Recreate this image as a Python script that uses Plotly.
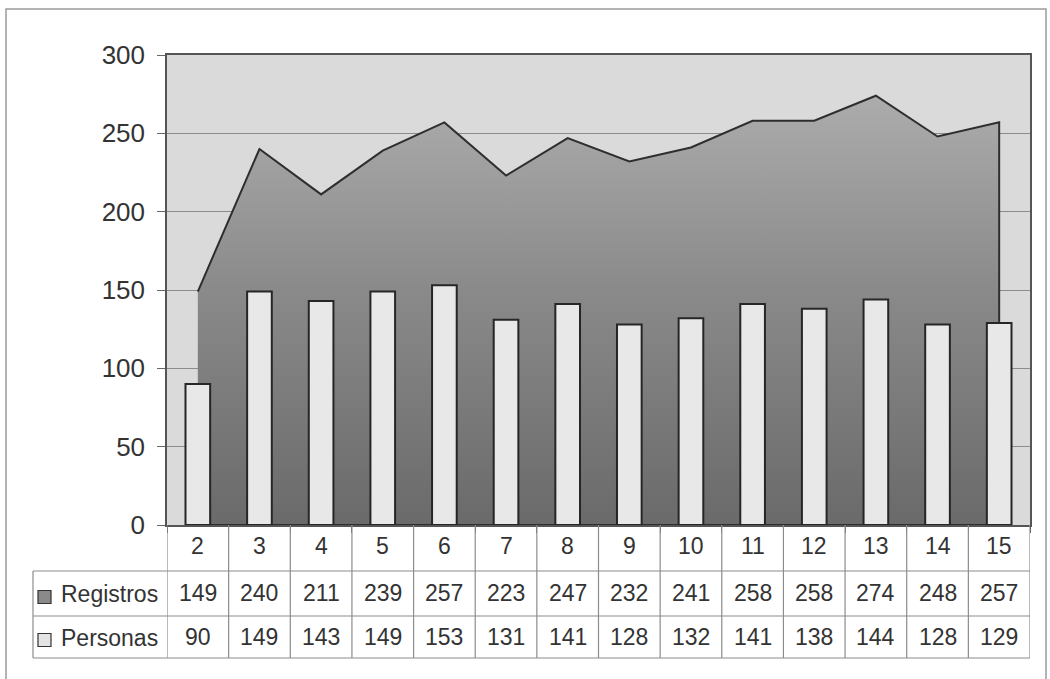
import plotly.graph_objects as go

categories = ["2", "3", "4", "5", "6", "7", "8", "9", "10", "11", "12", "13", "14", "15"]
registros = [149, 240, 211, 239, 257, 223, 247, 232, 241, 258, 258, 274, 248, 257]
personas = [90, 149, 143, 149, 153, 131, 141, 128, 132, 141, 138, 144, 128, 129]
yticks = [0, 50, 100, 150, 200, 250, 300]

W, H = 1050, 679
L, R, T, B = 167, 1030, 55, 525
PW, PH = R - L, B - T


def px(x):
    return (x - L) / PW


def py(y):
    return (B - y) / PH


FONT = "Liberation Sans, Arial, sans-serif"
n = len(categories)

fig = go.Figure()

# Area (Registros) polygon closed to the baseline
area_x = list(range(n)) + [n - 1, 0]
area_y = registros + [0, 0]
fig.add_trace(go.Scatter(
    x=area_x, y=area_y, mode="lines", fill="toself",
    line=dict(color="#2e2e2e", width=2),
    fillgradient=dict(type="vertical",
                      colorscale=[[0, "#6a6a6a"], [0.55, "#8a8a8a"], [1, "#acacac"]]),
    name="Registros", hoverinfo="skip", yaxis="y",
))

# Bars (Personas) on an overlaying axis so they sit above the area
fig.add_trace(go.Bar(
    x=list(range(n)), y=personas, width=0.4,
    marker=dict(color="#e8e8e8", line=dict(color="#262626", width=2)),
    name="Personas", yaxis="y2",
))

shapes = []
annotations = []

# Outer chart border
shapes.append(dict(type="rect", xref="paper", yref="paper",
                   x0=px(6), x1=px(1046), y0=py(700), y1=py(9),
                   line=dict(color="#9a9a9a", width=1.5), fillcolor="rgba(0,0,0,0)", layer="below"))

table_line = dict(color="#8c8c8c", width=1.2)
y_head_bot = 571
y_row1_bot = 616
y_row2_bot = 658

# Vertical lines of the table (category boundaries)
for k in range(n + 1):
    shapes.append(dict(type="line", xref="x", yref="paper",
                       x0=k - 0.5, x1=k - 0.5, y0=py(B), y1=py(y_row2_bot),
                       line=table_line))
# Legend column left edge
shapes.append(dict(type="line", xref="paper", yref="paper",
                   x0=px(33), x1=px(33), y0=py(y_head_bot), y1=py(y_row2_bot), line=table_line))
# Horizontal lines
for yy in [y_head_bot, y_row1_bot, y_row2_bot]:
    shapes.append(dict(type="line", xref="paper", yref="paper",
                       x0=px(33), x1=1, y0=py(yy), y1=py(yy), line=table_line))

# Legend keys
for yc, fillc in [(597, "#8a8a8a"), (640, "#e4e4e4")]:
    shapes.append(dict(type="rect", xref="paper", yref="paper",
                       x0=px(38), x1=px(51), y0=py(yc - 6.5), y1=py(yc + 6.5),
                       fillcolor=fillc, line=dict(color="#333333", width=1.2)))

tfont = dict(family=FONT, size=23, color="#333333")
annotations.append(dict(xref="paper", yref="paper", x=px(59), y=py(594), text="Registros",
                        showarrow=False, xanchor="left", yanchor="middle", font=tfont))
annotations.append(dict(xref="paper", yref="paper", x=px(59), y=py(638), text="Personas",
                        showarrow=False, xanchor="left", yanchor="middle", font=tfont))

for i, c in enumerate(categories):
    annotations.append(dict(xref="x", yref="paper", x=i, y=py(546), text=c,
                            showarrow=False, xanchor="center", yanchor="middle", font=tfont))
    annotations.append(dict(xref="x", yref="paper", x=i, y=py(593), text=str(registros[i]),
                            showarrow=False, xanchor="center", yanchor="middle", font=tfont))
    annotations.append(dict(xref="x", yref="paper", x=i, y=py(637), text=str(personas[i]),
                            showarrow=False, xanchor="center", yanchor="middle", font=tfont))

fig.update_layout(
    width=W, height=H, autosize=False,
    margin=dict(l=L, r=W - R, t=T, b=H - B, pad=0),
    paper_bgcolor="white", plot_bgcolor="#dadada",
    showlegend=False, bargap=0.6,
    xaxis=dict(range=[-0.5, n - 0.5], tickvals=[k - 0.5 for k in range(n + 1)],
               ticktext=["" for _ in range(n + 1)], ticks="outside", ticklen=6,
               tickcolor="#666666", showgrid=False, zeroline=False, automargin=False,
               showline=True, linecolor="#555555", linewidth=1.5, mirror=True),
    yaxis=dict(range=[0, 300], tickvals=yticks, ticktext=[str(v) for v in yticks],
               ticks="outside", ticklen=8, tickcolor="#666666", automargin=False,
               tickfont=dict(family=FONT, size=26, color="#333333"),
               showgrid=True, gridcolor="#8c8c8c", gridwidth=1, zeroline=False,
               showline=True, linecolor="#555555", linewidth=1.5, mirror=True, ticklabelstandoff=7),
    yaxis2=dict(range=[0, 300], overlaying="y", showticklabels=False, showgrid=False,
                zeroline=False, showline=False, automargin=False),
    shapes=shapes, annotations=annotations,
)

post = ("document.documentElement.style.margin='0';document.body.style.margin='0';"
        "document.documentElement.style.overflow='hidden';document.body.style.overflow='hidden';")
fig.write_html("out.html", post_script=post, config={"displayModeBar": False})
